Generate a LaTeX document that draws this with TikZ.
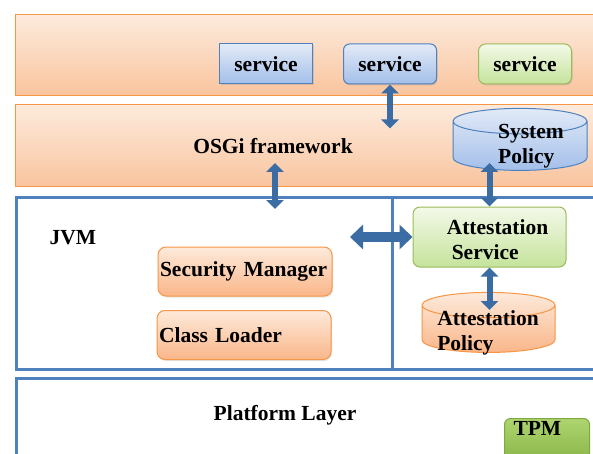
\documentclass[tikz,border=0pt]{standalone}
\usepackage{fontspec}
\setmainfont{Liberation Serif}
\usetikzlibrary{positioning, shapes.geometric, arrows.meta, shadows}
\definecolor{orangeline}{HTML}{F79646}
\definecolor{bandtop}{HTML}{FDEBDD}
\definecolor{bandbot}{HTML}{F9C49E}
\definecolor{layerblue}{HTML}{4F81BD}
\definecolor{blueline}{HTML}{4F81BD}
\definecolor{bluetop}{HTML}{E2EAF7}
\definecolor{bluebot}{HTML}{A3BFEA}
\definecolor{greenline}{HTML}{9BBB59}
\definecolor{greentop}{HTML}{F3F9E8}
\definecolor{greenbot}{HTML}{C5E39C}
\definecolor{tpmtop}{HTML}{AED570}
\definecolor{tpmbot}{HTML}{8BB74A}
\definecolor{tpmline}{HTML}{7FA843}
\definecolor{boxtop}{HTML}{FDEADB}
\definecolor{boxbot}{HTML}{FAB689}
\definecolor{arrowblue}{HTML}{3B6CA4}

\begin{document}
\begin{tikzpicture}[x=1pt, y=-1pt, font=\fontsize{21.5}{25}\selectfont\bfseries,
	band/.style={rectangle, draw=orangeline, line width=1.2pt, top color=bandtop, bottom color=bandbot, anchor=north west, inner sep=0pt},
	layer/.style={rectangle, draw=layerblue, line width=3pt, fill=white, anchor=north west, inner sep=0pt},
	svcbox/.style={rectangle, draw=blueline, line width=1pt, top color=bluetop, bottom color=bluebot, minimum width=93pt, minimum height=40pt, inner sep=0pt, drop shadow={opacity=0.25, shadow xshift=1pt, shadow yshift=-1.5pt}},
	greenbox/.style={draw=greenline, top color=greentop, bottom color=greenbot, rounded corners=7pt},
	jvmbox/.style={rectangle, rounded corners=8pt, draw=orangeline, line width=1pt, top color=boxtop, bottom color=boxbot, text width=170pt, inner xsep=2pt, minimum height=49pt, align=left, drop shadow={opacity=0.2, shadow xshift=1pt, shadow yshift=-1.5pt}},
	store/.style={cylinder, shape border rotate=90, aspect=0.19, draw, line width=1pt, inner sep=0pt},
	dblarrow/.style={line width=6pt, draw=arrowblue, {Triangle[width=17pt,length=9pt]}-{Triangle[width=17pt,length=9pt]}},
	bigarrow/.style={line width=10pt, draw=arrowblue, {Triangle[width=24pt,length=13pt]}-{Triangle[width=24pt,length=13pt]}}]
	\clip (0,0) rectangle (593,454);

	\node[band, minimum width=620pt, minimum height=81pt] (svclayer) at (15,14) {};
	\node[band, minimum width=620pt, minimum height=82pt] (osgilayer) at (15,104) {};
	\node[layer, minimum width=620pt, minimum height=172pt] (jvmlayer) at (15,196) {};
	\node[layer, minimum width=620pt, minimum height=120pt] (platlayer) at (15,377) {};
	\draw[layerblue, line width=3pt] (392,196) -- (392,368);

	\node[svcbox] (svc1) at (266,64) {service};
	\node[svcbox, rounded corners=6pt] (svc2) at (390,64) {service};
	\node[svcbox, greenbox] (svc3) at (525,64) {service};

	\node (osgi) at (273,146) {OSGi framework};
	\node[store, draw=blueline, top color=bluetop, bottom color=bluebot, text width=134pt, minimum height=62pt] (syspol) at (520,146) {};
	\node[align=left] (syspoltext) at (531,146) {System\\Policy};

	\node (jvm) at (73,238) {JVM};
	\node[jvmbox] (secman) at (245,271.5) {Security Manager};
	\node[jvmbox] (clsload) at (244,335) {Class Loader};

	\node[rectangle, greenbox, line width=1pt, minimum width=153pt, minimum height=60pt] (attsvc) at (489.5,237) {};
	\node[align=left] (attsvctext) at (497.5,240) {Attestation\\\hspace*{5pt}Service};
	\node[store, draw=orangeline, top color=boxtop, bottom color=boxbot, text width=133pt, minimum height=60pt] (attpol) at (488.5,329) {};
	\node[align=left] (attpoltext) at (488,332.5) {Attestation\\Policy};

	\node (platform) at (285,415) {Platform Layer};
	\node[rectangle, rounded corners=6pt, draw=tpmline, line width=1pt, top color=tpmtop, bottom color=tpmbot, anchor=north west, text height=15pt, text depth=22pt, inner ysep=2pt, inner xsep=9pt, text width=67pt, align=left] (tpm) at (504,418) {TPM};

	\coordinate (osgiend) at ([yshift=-44pt]svc2.south);
	\coordinate (jvmtop) at (275,209);
	\coordinate (osgibot) at (275,163);
	\coordinate (polbot) at (489,163);
	\coordinate (attpoltop) at (489,310);
	\coordinate (jvmarrow) at (350,237);

	\draw[dblarrow] (svc2.south) -- (osgiend);
	\draw[dblarrow] (osgibot) -- (jvmtop);
	\draw[dblarrow] (attsvc.north) -- (attsvc.north |- polbot);
	\draw[dblarrow] (attsvc.south) -- (attsvc.south |- attpoltop);
	\draw[bigarrow] (attsvc.west) -- (jvmarrow);
\end{tikzpicture}
\end{document}
